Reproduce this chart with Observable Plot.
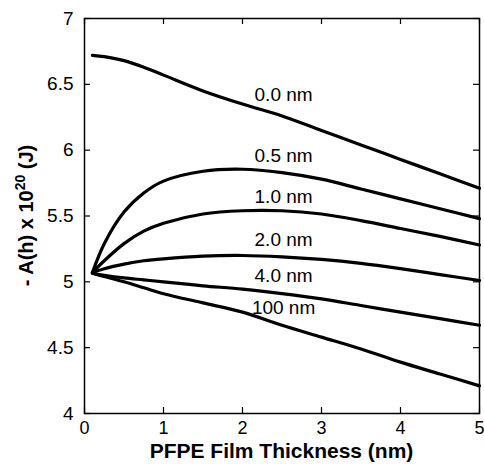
<!DOCTYPE html>
<html><head><meta charset="utf-8">
<script src="https://cdn.jsdelivr.net/npm/d3@7"></script>
<script src="https://cdn.jsdelivr.net/npm/@observablehq/plot@0.6"></script>
<style>
body{margin:0;background:#fff;}
#chart{width:484px;height:466px;}
</style></head><body><div id="chart"></div>
<script>
// PFPE film thickness (nm)
const thickness = [0.1, 0.25, 0.5, 0.75, 1.0, 1.5, 2.0, 2.5, 3.0, 3.5, 4.0, 4.5, 5.0];
const seriesNames = ["0.0 nm", "0.5 nm", "1.0 nm", "2.0 nm", "4.0 nm", "100 nm"];
// -A(h) x 10^20 (J)
const a_0_0 = [6.72, 6.71, 6.68, 6.63, 6.57, 6.45, 6.35, 6.26, 6.15, 6.04, 5.93, 5.82, 5.71];
const a_0_5 = [5.07, 5.29, 5.53, 5.675, 5.765, 5.84, 5.855, 5.83, 5.78, 5.705, 5.63, 5.555, 5.48];
const a_1_0 = [5.07, 5.16, 5.29, 5.385, 5.445, 5.515, 5.54, 5.54, 5.515, 5.465, 5.405, 5.345, 5.28];
const a_2_0 = [5.07, 5.10, 5.135, 5.16, 5.175, 5.195, 5.20, 5.19, 5.17, 5.14, 5.10, 5.055, 5.01];
const a_4_0 = [5.065, 5.05, 5.03, 5.015, 5.0, 4.97, 4.945, 4.91, 4.87, 4.82, 4.77, 4.72, 4.67];
const a_100 = [5.065, 5.04, 5.00, 4.955, 4.91, 4.84, 4.77, 4.67, 4.58, 4.49, 4.39, 4.30, 4.21];
// curve label anchors (data units)
const labelX = [2.52, 2.52, 2.52, 2.52, 2.52, 2.52];
const labelY = [6.423, 5.96, 5.643, 5.322, 5.046, 4.805];
const xTicks = [0, 1, 2, 3, 4, 5];
const yTicks = [4, 4.5, 5, 5.5, 6, 6.5, 7];
const xTitle = "PFPE Film Thickness (nm)";

const allSeries = [a_0_0, a_0_5, a_1_0, a_2_0, a_4_0, a_100];
const rows = [];
allSeries.forEach((vals, i) => vals.forEach((v, j) => rows.push({series: seriesNames[i], x: thickness[j], y: v})));
const labels = seriesNames.map((s, i) => ({text: s, x: labelX[i], y: labelY[i]}));

const W = 484, H = 466, mL = 84, mR = 5, mT = 18, mB = 53;
const fw = W - mL - mR, fh = H - mT - mB, tk = 6;
const font = "'Liberation Sans', Arial, Helvetica, sans-serif";

const svg = Plot.plot({
  width: W, height: H,
  marginLeft: mL, marginRight: mR, marginTop: mT, marginBottom: mB,
  style: {fontFamily: font, fontSize: "19px", color: "#000", background: "#fff", overflow: "visible"},
  x: {domain: [0, 5]},
  y: {domain: [4, 7]},
  marks: [
    Plot.line(rows, {x: "x", y: "y", z: "series", stroke: "#000", strokeWidth: 3.2, curve: "catmull-rom", strokeLinejoin: "round", strokeLinecap: "round"}),
    Plot.text(labels, {x: "x", y: "y", text: "text", fontSize: 19, textAnchor: "middle", lineAnchor: "middle", fill: "#000"}),
    Plot.axisX(xTicks, {tickSize: 0, tickPadding: 8, fontSize: 18, label: null, fill: "#000"}),
    Plot.axisY(yTicks, {tickSize: 0, tickPadding: 11, fontSize: 19, label: null, tickFormat: d => String(d), fill: "#000"}),
    Plot.ruleX(xTicks, {x: d => d, insetTop: fh - tk, stroke: "#000", strokeWidth: 1.2}),
    Plot.ruleX(xTicks, {x: d => d, insetBottom: fh - tk, stroke: "#000", strokeWidth: 1.2}),
    Plot.ruleY(yTicks, {y: d => d, insetRight: fw - tk, stroke: "#000", strokeWidth: 1.2}),
    Plot.ruleY(yTicks, {y: d => d, insetLeft: fw - tk, stroke: "#000", strokeWidth: 1.2}),
    Plot.frame({stroke: "#000", strokeWidth: 1.5})
  ]
});
document.getElementById("chart").appendChild(svg);

const s = d3.select(svg);
s.append("text")
  .attr("x", mL + fw / 2).attr("y", 458)
  .attr("text-anchor", "middle")
  .attr("font-family", font).attr("font-size", 21).attr("font-weight", "bold")
  .attr("fill", "#000")
  .text(xTitle);

const yt = s.append("text")
  .attr("transform", `translate(33,${mT + fh / 2}) rotate(-90)`)
  .attr("text-anchor", "middle")
  .attr("font-family", font).attr("font-size", 20).attr("font-weight", "bold")
  .attr("fill", "#000");
yt.append("tspan").text("- A(h) x 10");
yt.append("tspan").attr("font-size", 14).attr("dy", -8).text("20");
yt.append("tspan").attr("dy", 8).text(" (J)");
</script></body></html>
